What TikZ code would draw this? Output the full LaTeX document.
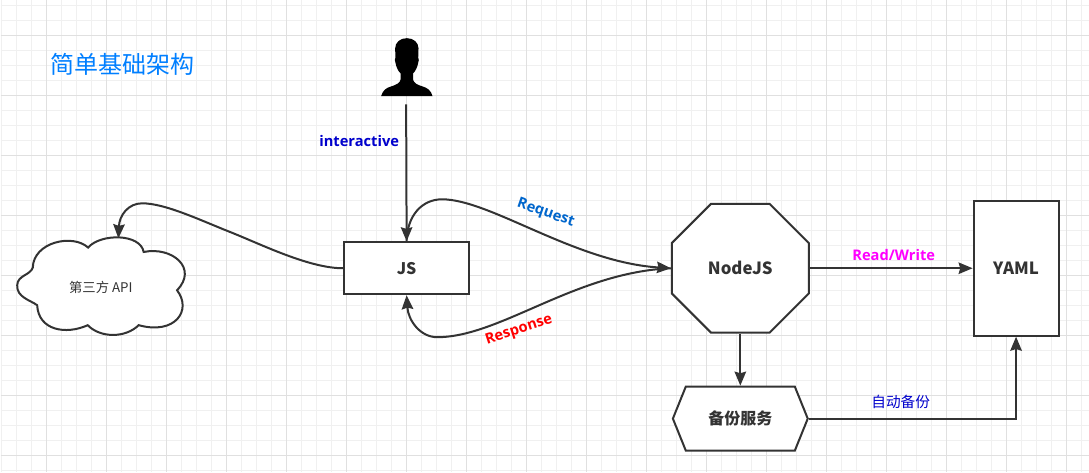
\documentclass[tikz,border=0pt]{standalone}
\usepackage{fontspec}
\setmainfont{Open Sans}
\newfontfamily\cjk{Noto Sans CJK SC}
\usepackage{tikz}
\usetikzlibrary{positioning,arrows.meta,shapes.misc,shapes.symbols}

\definecolor{ink}{HTML}{333333}
\definecolor{minorgrid}{HTML}{F0F0F0}
\definecolor{majorgrid}{HTML}{E0E0E0}
\definecolor{titleblue}{HTML}{007FFF}
\definecolor{labelblue}{HTML}{0000CC}
\definecolor{requestblue}{HTML}{0066CC}
\definecolor{responsered}{HTML}{FF0000}
\definecolor{writemagenta}{HTML}{FF00FF}

\begin{document}
\begin{tikzpicture}[
    x=0.75pt, y=-0.75pt,
    box/.style={rectangle, draw=ink, fill=white, line width=1.5pt, inner sep=0pt, text=ink, font=\fontsize{12}{14}\selectfont\bfseries\cjk},
    bigbox/.style={box, font=\fontsize{12.6}{14}\selectfont\bfseries\cjk},
    octagon/.style={bigbox, chamfered rectangle, chamfered rectangle xsep=27.75pt, chamfered rectangle ysep=27.75pt},
    hexagon/.style={box, signal, signal to=west and east, signal pointer angle=136},
    arrow/.style={-{Stealth[length=10.5pt, width=8.6pt, inset=1.2pt]}, draw=ink, line width=1.5pt},
    edgelabel/.style={font=\fontsize{11}{12}\selectfont\bfseries}
]
    % background grid
    \fill[white] (0,0) rectangle (1089,472);
    \foreach \i in {0,...,72} \draw[minorgrid, line width=0.75pt] ({1.5+15*\i},0) -- ({1.5+15*\i},472);
    \foreach \j in {0,...,31} \draw[minorgrid, line width=0.75pt] (0,{5.5+15*\j}) -- (1089,{5.5+15*\j});
    \foreach \i in {0,...,17} \draw[majorgrid, line width=0.75pt] ({46.5+60*\i},0) -- ({46.5+60*\i},472);
    \foreach \j in {0,...,7} \draw[majorgrid, line width=0.75pt] (0,{35.5+60*\j}) -- (1089,{35.5+60*\j});
    \useasboundingbox (0,0) rectangle (1089,472);

    \node[text=titleblue, font=\fontsize{18}{20}\selectfont\cjk, inner sep=0pt] (title) at (122,64) {简单基础架构};

    % user icon
    \fill[black] (381,95.7) .. controls (382.5,90) and (386,87.5) .. (391,86)
        .. controls (396,84.5) and (400,82.5) .. (400.5,79) -- (400.5,73)
        .. controls (398,71) and (396,66) .. (395.5,63)
        .. controls (394.5,61) and (394.5,58) .. (395.3,57) -- (395,48)
        .. controls (395,42) and (400,37.7) .. (406.7,37.7)
        .. controls (413.4,37.7) and (418.4,42) .. (418.4,48) -- (418.1,57)
        .. controls (418.9,58) and (418.9,61) .. (417.9,63)
        .. controls (417.4,66) and (415.4,71) .. (412.9,73) -- (412.9,79)
        .. controls (413.4,82.5) and (417.4,84.5) .. (422.4,86)
        .. controls (427.4,87.5) and (430.9,90) .. (432.4,95.7) -- cycle;
    \coordinate (user) at (406,104);

    % cloud outline
    \draw[ink, fill=white, line width=1.5pt] (32.3,267.3)
        .. controls (33,242) and (72,233) .. (87.7,247.3)
        .. controls (100,233) and (140,233) .. (143.3,251.7)
        .. controls (172,246) and (198,268) .. (176.7,290)
        .. controls (192,310) and (175,335) .. (138.3,325)
        .. controls (125,338) and (100,338) .. (87.3,325)
        .. controls (65,335) and (38,330) .. (36.7,305)
        .. controls (30,300) and (16,297) .. (16.7,285)
        .. controls (17,275) and (30,275) .. cycle;

    \node[box, minimum width=93.75pt, minimum height=39pt] (js) at (406.5,268) {JS};
    \node[inner sep=0pt, minimum width=124.5pt, minimum height=72.75pt, text=ink, font=\fontsize{10}{11}\selectfont\cjk, left=119.5pt of js, yshift=-14.25pt] (api) {第三方 API};
    \coordinate (apitop) at (118,238);
    \node[octagon, minimum width=102.75pt, minimum height=96.75pt, right=150.75pt of js] (nodejs) {NodeJS};
    \node[bigbox, minimum width=63.75pt, minimum height=101.25pt, right=122.25pt of nodejs] (yaml) {YAML};
    \node[hexagon, minimum width=101.25pt, minimum height=48pt, below=39pt of nodejs] (backup) {备份服务};

    \draw[arrow] (user) -- (js.north);
    \draw[arrow] (js.west) .. controls (310,268) and (265,246) .. (233,233)
        .. controls (200,220) and (165,203) .. (141.7,203)
        .. controls (128,203) and (119,215) .. (apitop);
    \draw[arrow] (js.north) .. controls (407,215) and (422,199) .. (442,199)
        .. controls (490,199) and (575,262) .. (nodejs.west);
    \draw[arrow] (nodejs.west) .. controls (575,272) and (500,337) .. (437,337)
        .. controls (420,337) and (408,320) .. (js.south);
    \draw[arrow] (nodejs.east) -- (yaml.west);
    \draw[arrow] (nodejs.south) -- (backup.north);
    \draw[arrow] (backup.east) -| (yaml.south);

    \node[edgelabel, text=labelblue] (interactive) at (359,141) {interactive};
    \node[edgelabel, text=requestblue, rotate=-19] (request) at (545.7,213) {Request};
    \node[edgelabel, text=responsered, rotate=18] (response) at (519,330) {Response};
    \node[edgelabel, text=writemagenta] (readwrite) at (894,255) {Read/Write};
    \node[text=labelblue, font=\fontsize{11}{12}\selectfont\cjk] (autobackup) at (901,402) {自动备份};
\end{tikzpicture}
\end{document}
